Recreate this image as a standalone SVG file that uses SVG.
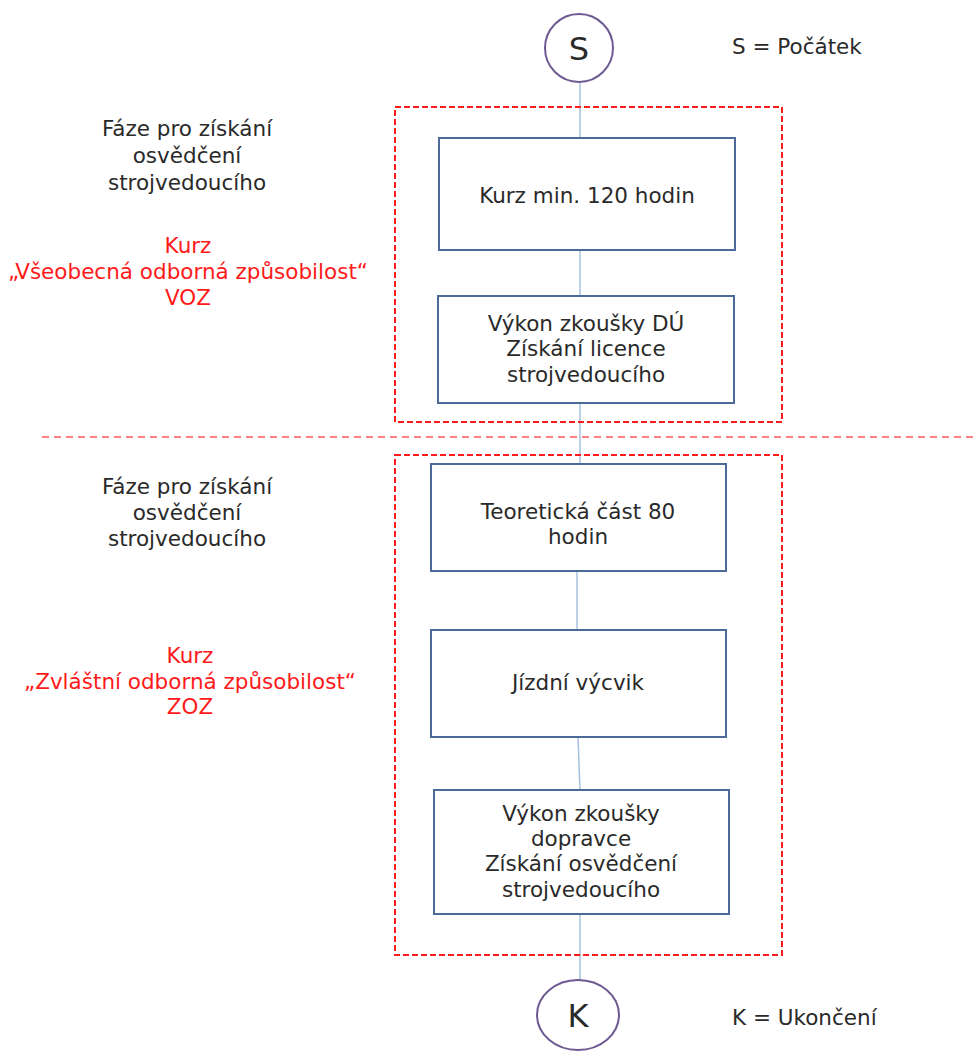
<svg xmlns="http://www.w3.org/2000/svg" width="974" height="1052" viewBox="0 0 974 1052">
<style>
text{font-family:"DejaVu Sans",Verdana,sans-serif;font-size:21.5px;fill:#2a2a2a;text-anchor:middle}
.red{fill:#ff1a1a}
.box{fill:#fff;stroke:#4b6a98;stroke-width:2}
.term{fill:#fff;stroke:#6e5a92;stroke-width:2}
.grp{fill:none;stroke:#ff1a1a;stroke-width:2;stroke-dasharray:6 3}
.sep{fill:none;stroke:#ff8080;stroke-width:2;stroke-dasharray:7 5}
.conn{stroke:#a8c0e0;stroke-width:1.5;fill:none}
.leg{text-anchor:start}
.big{font-size:32px}
</style>
<rect width="974" height="1052" fill="#fff"/>
<g id="connectors">
<line class="conn" x1="580" y1="83" x2="580" y2="138"/>
<line class="conn" x1="580" y1="250" x2="580" y2="296"/>
<line class="conn" x1="580" y1="403" x2="580" y2="464"/>
<line class="conn" x1="577" y1="571" x2="577" y2="630"/>
<line class="conn" x1="578" y1="737" x2="580" y2="790"/>
<line class="conn" x1="580" y1="914" x2="580" y2="980"/>
</g>
<g id="group-voz"><rect class="grp" x="395" y="107" width="387" height="315"/></g>
<g id="separator"><line class="sep" x1="42" y1="437" x2="974" y2="437"/></g>
<g id="group-zoz"><rect class="grp" x="395" y="455" width="387" height="500"/></g>
<g id="start">
<circle class="term" cx="579" cy="48" r="34"/>
<text class="big" x="579" y="60">S</text>
</g>
<g id="start-legend"><text class="leg" x="732" y="54">S = Počátek</text></g>
<g id="n1">
<rect class="box" x="439" y="138" width="296" height="112"/>
<text x="587" y="203">Kurz min. 120 hodin</text>
</g>
<g id="n2">
<rect class="box" x="438" y="296" width="296" height="107"/>
<text x="586" y="331">Výkon zkoušky DÚ</text>
<text x="586" y="356">Získání licence</text>
<text x="586" y="382">strojvedoucího</text>
</g>
<g id="n3">
<rect class="box" x="431" y="464" width="295" height="107"/>
<text x="578" y="519">Teoretická část 80</text>
<text x="578" y="544">hodin</text>
</g>
<g id="n4">
<rect class="box" x="431" y="630" width="295" height="107"/>
<text x="578" y="690">Jízdní výcvik</text>
</g>
<g id="n5">
<rect class="box" x="434" y="790" width="295" height="124"/>
<text x="581" y="821">Výkon zkoušky</text>
<text x="581" y="846">dopravce</text>
<text x="581" y="871">Získání osvědčení</text>
<text x="581" y="897">strojvedoucího</text>
</g>
<g id="end">
<ellipse class="term" cx="578" cy="1015" rx="41" ry="35"/>
<text class="big" x="578" y="1027">K</text>
</g>
<g id="end-legend"><text class="leg" x="732" y="1025">K = Ukončení</text></g>
<g id="label-phase1">
<text x="187" y="136">Fáze pro získání</text>
<text x="187" y="163">osvědčení</text>
<text x="187" y="190">strojvedoucího</text>
</g>
<g id="label-voz">
<text class="red" x="188" y="253">Kurz</text>
<text class="red" x="188" y="279">„Všeobecná odborná způsobilost“</text>
<text class="red" x="188" y="305">VOZ</text>
</g>
<g id="label-phase2">
<text x="187" y="494">Fáze pro získání</text>
<text x="187" y="520">osvědčení</text>
<text x="187" y="546">strojvedoucího</text>
</g>
<g id="label-zoz">
<text class="red" x="190" y="663">Kurz</text>
<text class="red" x="190" y="689">„Zvláštní odborná způsobilost“</text>
<text class="red" x="190" y="714">ZOZ</text>
</g>
</svg>
